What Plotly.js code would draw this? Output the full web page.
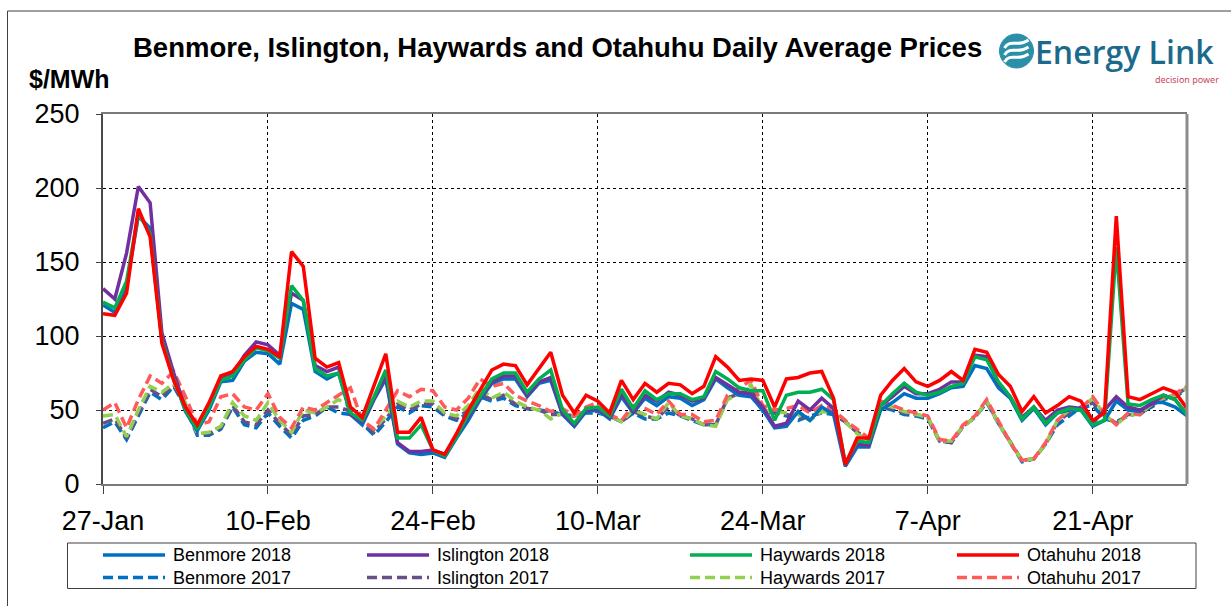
<!DOCTYPE html>
<html>
<head>
<meta charset="utf-8">
<script src="https://cdn.plot.ly/plotly-3.0.1.min.js"></script>
<style>
  html, body { margin: 0; padding: 0; background: #fff; }
  #chart { width: 1231px; height: 606px; }
</style>
</head>
<body>
<div id="chart"></div>
<script>
// ---------------- DATA ----------------
const startDate = '2018-01-27';
const numDays = 93; // 27-Jan .. 29-Apr

const tickDates = ['2018-01-27','2018-02-10','2018-02-24','2018-03-10','2018-03-24','2018-04-07','2018-04-21'];
const tickLabels = ['27-Jan','10-Feb','24-Feb','10-Mar','24-Mar','7-Apr','21-Apr'];

const seriesNames = ['Benmore 2018','Islington 2018','Haywards 2018','Otahuhu 2018',
                     'Benmore 2017','Islington 2017','Haywards 2017','Otahuhu 2017'];

const benmore2018 = [121,116,134,181,173,97,72,49,36,50, 69,70,83,89,88,81,122,118,76,71,
  75,47,40,57,71,27,21,20,21,18, 31,43,57,68,71,71,59,68,70,47, 39,49,50,44,59,48,58,53,59,58,
  53,57,71,65,60,59,50,38,39,49, 43,52,47,12,25,25,50,55,61,58, 58,61,65,66,80,78,65,58,43,51,
  40,48,50,50,39,43,56,50,49,55, 55,52,46];
const islington2018 = [132,125,156,201,190,102,75,51,38,53, 71,74,87,96,94,87,129,124,80,76,
  79,47,42,57,73,28,22,22,23,20, 33,45,58,69,73,73,60,69,72,48, 40,50,51,45,61,49,60,56,62,60,
  56,58,72,67,62,61,52,39,41,56, 50,58,51,14,27,26,53,59,66,61, 61,64,69,69,87,86,68,59,45,52,
  43,50,52,51,41,50,59,52,50,54, 60,57,47];
const haywards2018 = [123,119,137,183,169,97,71,50,37,52, 70,73,84,92,90,85,134,124,78,73,
  75,48,43,59,77,31,31,40,23,19, 32,47,59,71,75,75,62,71,77,50, 41,51,52,46,64,51,63,57,61,61,
  57,59,76,71,65,63,63,43,60,62, 62,64,57,14,29,28,53,61,68,62, 60,62,66,68,86,84,69,59,44,52,
  41,48,51,50,40,43,160,54,53,57, 60,57,47];
const otahuhu2018 = [115,114,129,186,167,95,70,52,40,55, 73,76,86,93,91,86,157,147,85,79,
  82,52,45,66,88,35,35,45,23,20, 34,50,63,77,81,80,67,78,89,60, 48,60,56,48,70,57,68,62,68,67,
  61,66,86,79,70,71,70,52,71,72, 75,76,58,13,31,31,60,70,78,69, 66,70,76,70,91,89,74,66,49,59,
  48,53,59,56,43,48,181,59,57,61, 65,62,51];

const benmore2017 = [38,42,30,46,62,57,66,52,33,33, 37,52,40,38,48,39,31,43,46,52,
  48,47,41,33,42,52,48,53,52,46, 43,48,59,56,58,53,51,50,49,47, 46,48,48,46,42,48,44,44,48,46,
  43,40,40,58,61,62,49,48,46,43, 46,48,47,42,35,30,52,50,47,46, 44,29,28,39,45,55,41,28,15,17,
  27,40,46,52,53,44,42,46,48,52, 57,59,64];
const islington2017 = [41,44,31,48,64,59,67,53,34,34, 38,53,42,40,50,41,33,46,47,52,
  52,49,42,35,44,54,50,54,54,47, 44,50,61,57,60,54,51,50,47,47, 46,49,49,46,42,49,46,44,52,46,
  44,40,40,58,61,65,50,48,47,45, 45,49,48,42,35,30,53,51,48,47, 45,29,28,39,45,56,41,28,16,17,
  27,42,48,51,55,46,41,47,47,53, 58,60,65];
const haywards2017 = [46,47,32,50,66,62,68,55,34,35, 39,55,46,43,55,43,35,50,48,52,
  57,52,43,37,46,56,52,56,56,48, 46,53,65,58,62,56,52,50,44,48, 46,50,49,46,42,50,47,44,55,46,
  44,40,39,57,61,67,50,49,48,47, 43,49,48,42,34,29,54,52,49,47, 45,29,29,39,45,56,41,28,16,17,
  27,43,50,51,58,47,40,47,47,54, 58,60,65];
const otahuhu2017 = [50,55,38,57,73,68,76,59,40,42, 59,61,52,50,61,45,38,52,50,55,
  60,65,43,37,50,63,59,64,63,52, 50,58,71,66,68,60,56,53,49,51, 46,52,55,47,43,53,51,47,56,47,
  47,42,43,60,65,70,53,50,51,53, 48,53,50,43,37,31,56,53,50,48, 46,30,29,40,46,57,42,28,16,17,
  28,43,50,51,59,48,40,48,47,55, 59,61,66];

// ---------------- BUILD ----------------
const dates = [];
{
  const d0 = new Date(startDate + 'T00:00:00Z');
  for (let i = 0; i < numDays; i++) {
    const d = new Date(d0.getTime() + i * 86400000);
    dates.push(d.toISOString().slice(0, 10));
  }
}

const FONT = 'Arial, "Liberation Sans", sans-serif';
const styles = [
  {color: '#0070C0', dash: 'solid'},
  {color: '#7030A0', dash: 'solid'},
  {color: '#00B050', dash: 'solid'},
  {color: '#FF0000', dash: 'solid'},
  {color: '#0070C0', dash: '10px,5px'},
  {color: '#65508A', dash: '10px,5px'},
  {color: '#92D050', dash: '10px,5px'},
  {color: '#FF5A5A', dash: '10px,5px'}
];
const values = [benmore2018, islington2018, haywards2018, otahuhu2018,
                benmore2017, islington2017, haywards2017, otahuhu2017];

// draw 2017 (dashed) first, then 2018 on top
const drawOrder = [4,5,6,7,0,1,2,3];
const traces = drawOrder.map(i => ({
  type: 'scatter', mode: 'lines', name: seriesNames[i],
  x: dates, y: values[i],
  line: {color: styles[i].color, width: 3.5, dash: styles[i].dash},
  showlegend: false, hoverinfo: 'x+y+name'
}));

// pixel -> paper helpers (plot area: x 103..1187, y 114..484)
const L = 103, R = 1187, T = 114, B = 484;
const px = v => (v - L) / (R - L);
const py = v => (B - v) / (B - T);

const shapes = [];
const annotations = [];

// outer frame (top & left visible)
shapes.push({type: 'rect', xref: 'paper', yref: 'paper',
  x0: px(7.5), x1: px(1260), y0: py(11), y1: py(640),
  line: {color: '#404040', width: 1}, fillcolor: 'rgba(0,0,0,0)', layer: 'below'});
// right plot border (gray)
shapes.push({type: 'line', xref: 'paper', yref: 'paper', x0: 1, x1: 1, y0: 0, y1: 1,
  line: {color: '#8c8c8c', width: 3}});

// legend box
shapes.push({type: 'rect', xref: 'paper', yref: 'paper',
  x0: px(67.5), x1: px(1196), y0: py(543), y1: py(588.5),
  line: {color: '#404040', width: 1}, fillcolor: 'rgba(0,0,0,0)'});
const legendCols = [103, 367, 690, 957];
const legendRows = [555, 577.5];
for (let i = 0; i < 8; i++) {
  const col = i % 4, row = Math.floor(i / 4);
  const x0 = legendCols[col], yy = legendRows[row];
  shapes.push({type: 'line', xref: 'paper', yref: 'paper',
    x0: px(x0), x1: px(x0 + 62), y0: py(yy), y1: py(yy),
    line: {color: styles[i].color, width: 3.5, dash: styles[i].dash}});
  annotations.push({xref: 'paper', yref: 'paper', x: px(x0 + 68), y: py(yy),
    xanchor: 'left', yanchor: 'middle', showarrow: false, text: seriesNames[i],
    font: {family: FONT, size: 18, color: '#000'}});
}

// title & unit
annotations.push({xref: 'paper', yref: 'paper', x: px(557), y: py(47),
  xanchor: 'center', yanchor: 'middle', showarrow: false,
  text: '<b>Benmore, Islington, Haywards and Otahuhu Daily Average Prices</b>',
  font: {family: FONT, size: 27.5, color: '#000'}});
annotations.push({xref: 'paper', yref: 'paper', x: px(27), y: py(79),
  xanchor: 'left', yanchor: 'middle', showarrow: false,
  text: '<b>$/MWh</b>', font: {family: FONT, size: 25, color: '#000'}});

// logo
const cx = 1016.5, cy = 51, r = 17;
shapes.push({type: 'circle', xref: 'paper', yref: 'paper',
  x0: px(cx - r), x1: px(cx + r), y0: py(cy + r), y1: py(cy - r),
  fillcolor: '#2a90aa', line: {color: '#2a90aa', width: 1}});
[-7, 0, 7].forEach(o => {
  const p = [
    [cx - 12, cy + o + 4], [cx - 6, cy + o - 6], [cx + 1, cy + o + 4], [cx + 12, cy + o - 4]
  ];
  const path = `M${px(p[0][0])},${py(p[0][1])} C${px(p[1][0])},${py(p[1][1])} ${px(p[2][0])},${py(p[2][1])} ${px(p[3][0])},${py(p[3][1])}`;
  shapes.push({type: 'path', xref: 'paper', yref: 'paper', path: path,
    line: {color: '#ffffff', width: 3}});
});
annotations.push({xref: 'paper', yref: 'paper', x: px(1033), y: py(52),
  xanchor: 'left', yanchor: 'middle', showarrow: false,
  text: 'Energy Link', font: {family: '"Open Sans", "Noto Sans", sans-serif', size: 32, weight: 600, color: '#1b6a8c'}});
annotations.push({xref: 'paper', yref: 'paper', x: px(1221), y: py(79),
  xanchor: 'right', yanchor: 'middle', showarrow: false,
  text: 'decision power', font: {family: '"Noto Sans", sans-serif', size: 9, color: '#c8475f'}});

const layout = {
  width: 1231, height: 606,
  margin: {l: L, r: 1231 - R, t: T, b: 606 - B, pad: 0},
  paper_bgcolor: '#fff', plot_bgcolor: '#fff',
  showlegend: false,
  font: {family: FONT, color: '#000'},
  xaxis: {
    type: 'date',
    range: [dates[0], dates[dates.length - 1]],
    tickvals: tickDates, ticktext: tickLabels,
    ticks: 'outside', ticklen: 8, tickwidth: 1, tickcolor: '#404040',
    tickfont: {family: FONT, size: 27, color: '#000'},
    ticklabelstandoff: 4,
    showgrid: true, gridcolor: '#000', gridwidth: 1, griddash: 'dot',
    showline: true, linecolor: '#7a7a7a', linewidth: 2, mirror: true,
    zeroline: false, fixedrange: true
  },
  yaxis: {
    range: [0, 250], tick0: 0, dtick: 50,
    ticks: 'outside', ticklen: 5, tickwidth: 1, tickcolor: '#404040',
    tickfont: {family: FONT, size: 27, color: '#000'},
    ticklabelstandoff: 11,
    showgrid: true, gridcolor: '#000', gridwidth: 1, griddash: 'dot',
    showline: true, linecolor: '#4a4a4a', linewidth: 2, mirror: false,
    zeroline: false, fixedrange: true
  },
  shapes: shapes,
  annotations: annotations
};

Plotly.newPlot('chart', traces, layout, {displayModeBar: false, staticPlot: true});
</script>
</body>
</html>
